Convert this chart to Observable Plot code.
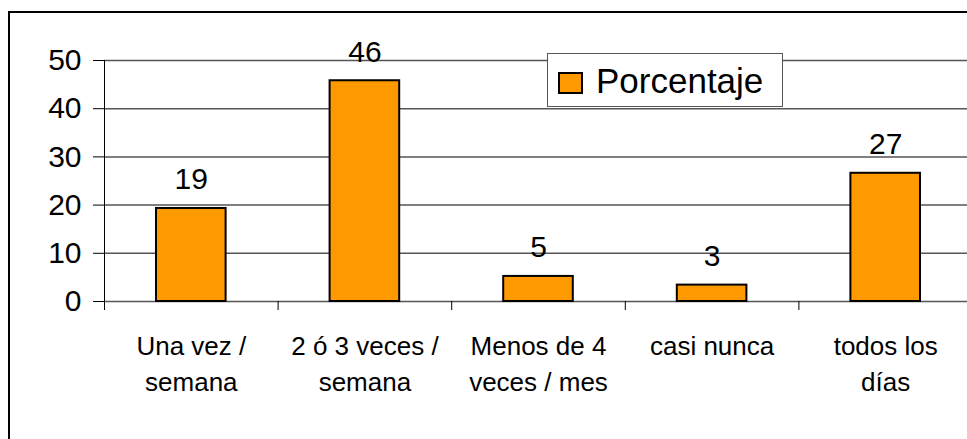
<!DOCTYPE html>
<html>
<head>
<meta charset="utf-8">
<script src="https://cdn.jsdelivr.net/npm/d3@7"></script>
<script src="https://cdn.jsdelivr.net/npm/@observablehq/plot@0.6"></script>
<style>
  html, body { margin: 0; padding: 0; background: #fff; overflow: hidden; }
  #wrap { position: relative; width: 967px; height: 439px; overflow: hidden; font-family: "Liberation Sans", Arial, sans-serif; }
  #frame { position: absolute; left: 8px; top: 11px; width: 1000px; height: 500px; border: 2px solid #000; box-sizing: border-box; }
  #chart { position: absolute; left: 0; top: 0; }
  #legend { position: absolute; left: 547px; top: 53px; width: 236px; height: 54px; box-sizing: border-box; border: 1.5px solid #555; background: #fff; }
  #legend .sw { position: absolute; left: 10px; top: 18px; width: 25px; height: 22px; box-sizing: border-box; border: 2px solid #000; background: #FF9900; }
  #legend .lb { position: absolute; left: 48px; top: 7px; font-size: 35px; line-height: 40px; color: #000; white-space: nowrap; }
</style>
</head>
<body>
<div id="wrap">
  <div id="frame"></div>
  <div id="chart"></div>
  <div id="legend"><div class="sw"></div><div class="lb">Porcentaje</div></div>
</div>
<script>
const categories = ["Una vez /\nsemana", "2 ó 3 veces /\nsemana", "Menos de 4\nveces / mes", "casi nunca", "todos los\ndías"];
const values = [19.3, 45.8, 5.2, 3.4, 26.6];
const yTicks = [0, 10, 20, 30, 40, 50];
const seriesName = "Porcentaje";

const data = categories.map((c, i) => ({i, category: c, value: values[i]}));
const boundaries = d3.range(categories.length + 1);
const fmt = d3.format(".0f");

const chart = Plot.plot({
  width: 967,
  height: 439,
  marginLeft: 104,
  marginRight: -5,
  marginTop: 60,
  marginBottom: 138,
  style: {fontFamily: "Liberation Sans, Arial, sans-serif", background: "transparent", color: "#000"},
  x: {type: "linear", domain: [0, categories.length], axis: null},
  y: {domain: [0, 50], axis: null},
  marks: [
    Plot.ruleY(yTicks, {stroke: "#555", strokeWidth: 1.5}),
    Plot.ruleX([0], {y1: 0, y2: 50, stroke: "#000", strokeWidth: 1}),
    Plot.axisY(yTicks, {tickSize: 11, tickPadding: 12, fontSize: 30, stroke: "#000", fill: "#000", label: null}),
    Plot.axisX(boundaries, {tickSize: 9, tickFormat: () => "", stroke: "#000", label: null}),
    Plot.rectY(data, {x1: d => d.i, x2: d => d.i + 1, y: "value", insetLeft: 52, insetRight: 52, fill: "#FF9900", stroke: "#000", strokeWidth: 2}),
    Plot.text(data, {x: d => d.i + 0.5, y: "value", text: d => fmt(d.value), dy: -19, lineAnchor: "bottom", fontSize: 30, fill: "#000"}),
    Plot.text(data, {x: d => d.i + 0.5, y: 0, text: "category", lineAnchor: "top", dy: 29, lineHeight: 1.35, fontSize: 26, fill: "#000"})
  ]
});
document.getElementById("chart").appendChild(chart);
</script>
</body>
</html>
